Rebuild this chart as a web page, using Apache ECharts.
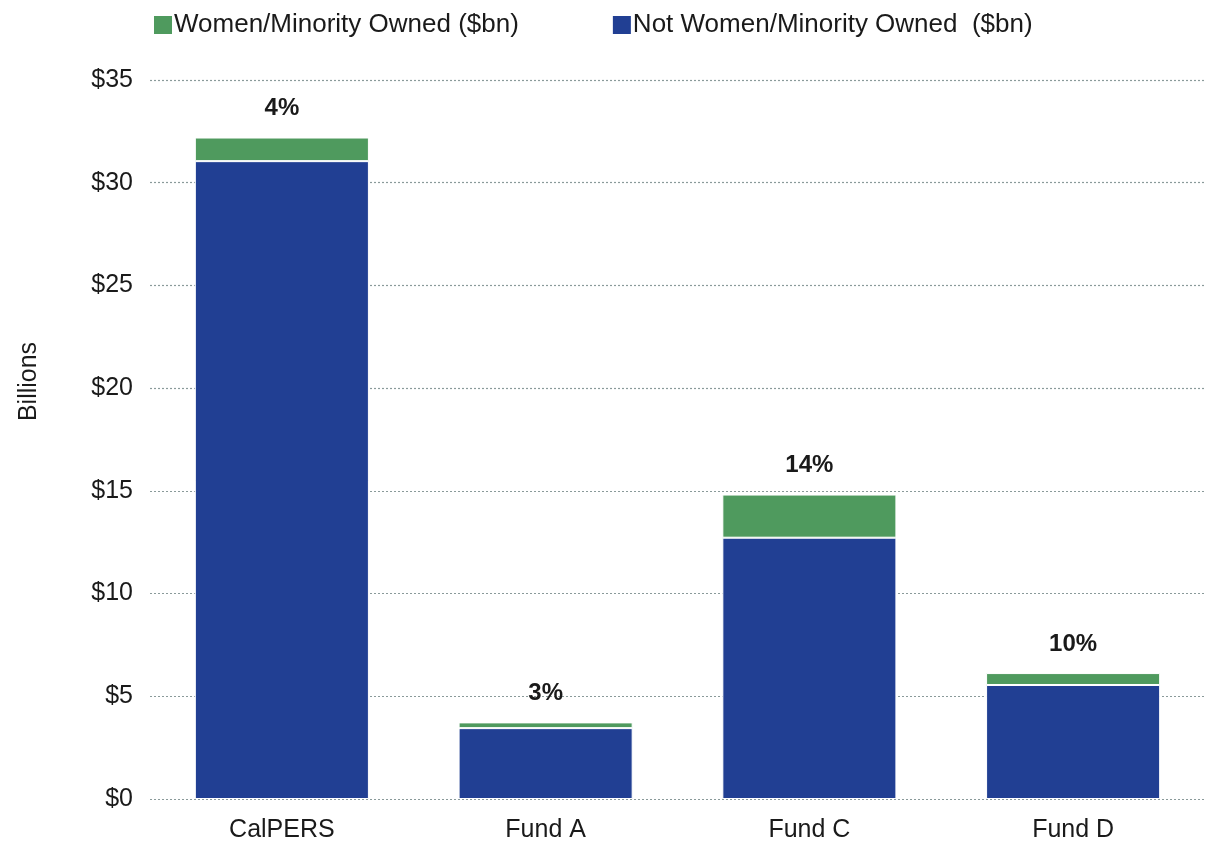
<!DOCTYPE html>
<html>
<head>
<meta charset="utf-8">
<script src="https://cdn.jsdelivr.net/npm/echarts@6/dist/echarts.min.js"></script>
<style>
  html, body { margin: 0; padding: 0; background: #fff; }
  #chart { width: 1208px; height: 843px; }
</style>
</head>
<body>
<div id="chart"></div>
<script>
// data
var funds = ['CalPERS', 'Fund A', 'Fund C', 'Fund D'];
var notOwned = [31.05, 3.45, 12.72, 5.55];
var womenOwned = [1.15, 0.28, 2.1, 0.58];
var pctLabels = ['4%', '3%', '14%', '10%'];
var yTicks = ['$0', '$5', '$10', '$15', '$20', '$25', '$30', '$35'];

var chart = echarts.init(document.getElementById('chart'));

var font = 'Liberation Sans, Arial, sans-serif';

var option = {
    backgroundColor: '#fff',
    textStyle: { fontFamily: font },
    legend: {
        top: 7,
        left: 147,
        itemGap: 92,
        itemWidth: 20,
        itemHeight: 20,
        icon: 'rect',
        textStyle: { fontSize: 26, color: '#1a1a1a', fontFamily: font, padding: [0, 0, 0, -4] },
        data: ['Women/Minority Owned ($bn)', 'Not Women/Minority Owned  ($bn)']
    },
    grid: { left: 150, right: 3, top: 80, bottom: 43 },
    xAxis: {
        type: 'category',
        data: funds,
        axisLine: { show: false },
        axisTick: { show: false },
        axisLabel: { fontSize: 25, color: '#1a1a1a', margin: 19 }
    },
    yAxis: {
        type: 'value',
        min: 0,
        max: 35,
        interval: 5,
        name: 'Billions',
        nameLocation: 'middle',
        nameGap: 108,
        nameRotate: 90,
        nameTextStyle: { fontSize: 25, color: '#1a1a1a', padding: [0, 0, 0, 116] },
        axisLine: { show: false },
        axisTick: { show: false },
        axisLabel: {
            fontSize: 25, color: '#1a1a1a', margin: 17,
            formatter: function (v) { return yTicks[v / 5]; }
        },
        splitLine: { lineStyle: { color: '#8a9a9a', type: [2, 2], width: 1.2 } }
    },
    series: [
        {
            name: 'Not Women/Minority Owned  ($bn)',
            type: 'bar',
            stack: 'total',
            barWidth: '66%',
            itemStyle: { color: '#213f93', borderColor: '#fff', borderWidth: 1 },
            data: notOwned
        },
        {
            name: 'Women/Minority Owned ($bn)',
            type: 'bar',
            stack: 'total',
            itemStyle: { color: '#4f9a5e', borderColor: '#fff', borderWidth: 1 },
            label: {
                show: true,
                position: 'top',
                distance: 17,
                fontSize: 24,
                fontWeight: 'bold',
                color: '#1a1a1a',
                formatter: function (p) { return pctLabels[p.dataIndex]; }
            },
            data: womenOwned
        }
    ]
};

chart.setOption(option);
</script>
</body>
</html>
